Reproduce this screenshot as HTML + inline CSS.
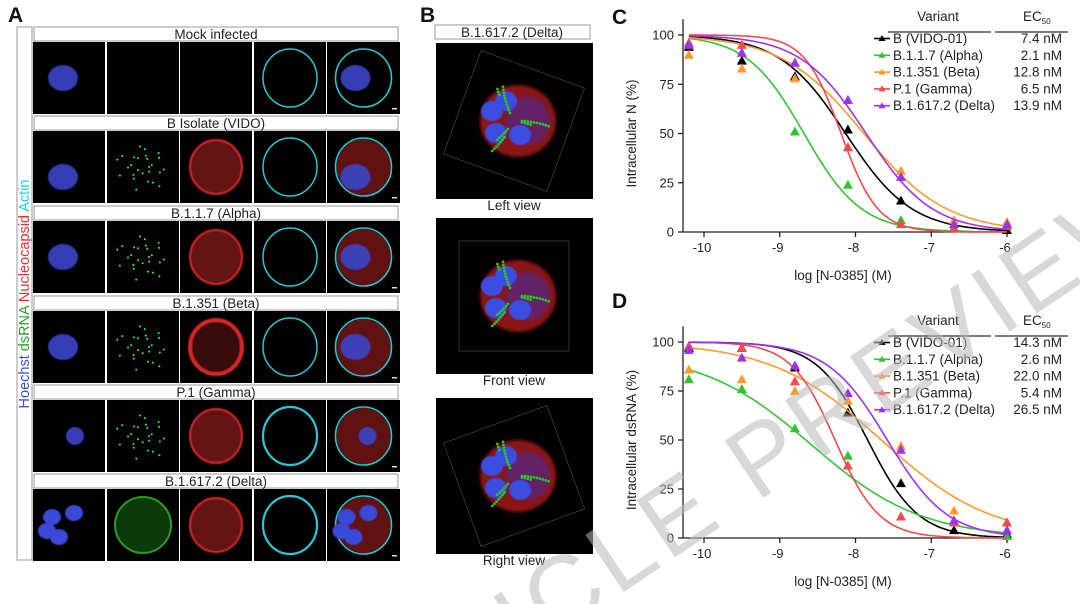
<!DOCTYPE html>
<html><head><meta charset="utf-8"><style>
html,body{margin:0;padding:0;background:#fff;}
body{width:1080px;height:604px;overflow:hidden;position:relative;font-family:"Liberation Sans",Arial,sans-serif;}
svg{position:absolute;left:0;top:0;overflow:hidden;}
</style></head><body>
<svg id="fig" width="1080" height="604" viewBox="0 0 1080 604" xmlns="http://www.w3.org/2000/svg" font-family="Liberation Sans, Arial, sans-serif">
<defs>
<filter id="bl" x="-20%" y="-20%" width="140%" height="140%"><feGaussianBlur stdDeviation="1.5"/></filter>
<filter id="bl2"><feGaussianBlur stdDeviation="0.6"/></filter>
<clipPath id="pageclip"><rect x="0" y="0" width="1080" height="604"/></clipPath>
</defs>
<g font-weight="bold" font-size="21" fill="#111">
<text x="8" y="22">A</text>
<text x="420" y="22">B</text>
<text x="612" y="24">C</text>
<text x="612" y="308">D</text>
</g>
<g id="panelA"></g>
<g id="panelB"></g>
<g id="chartC"></g>
<g id="chartD"></g>
<g clip-path="url(#pageclip)">
<text x="345" y="780" transform="rotate(-34 345 780)" font-size="100" fill="#b8b8b8" fill-opacity="0.55" letter-spacing="6">ARTICLE PREVIEW</text>
</g>
</svg>
<script>
const NS='http://www.w3.org/2000/svg';
function mk(parent,tag,attrs,text){const e=document.createElementNS(NS,tag);for(const k in attrs)e.setAttribute(k,attrs[k]);if(text!==undefined)e.textContent=text;parent.appendChild(e);return e;}

// ---------- Chart data ----------
const xDoses=[-10.2,-9.5,-8.8,-8.1,-7.4,-6.7,-6];
const xTicks=[-10,-9,-8,-7,-6];
const yTicks=[0,25,50,75,100];
const variantNames=['B (VIDO-01)','B.1.1.7 (Alpha)','B.1.351 (Beta)','P.1 (Gamma)','B.1.617.2 (Delta)'];
const variantColors=['#000000','#33c433','#ff9a2e','#f4494d','#9b33f0'];
const ec50LabelsC=['7.4','2.1','12.8','6.5','13.9'];
const ec50LabelsD=['14.3','2.6','22.0','5.4','26.5'];
const logEc50C=[-8.13,-8.68,-7.89,-8.19,-7.86];
const hillC=[1.0,1.15,0.8,1.8,1.0];
const logEc50D=[-7.84,-8.58,-7.66,-8.27,-7.58];
const hillD=[1.3,0.6,0.6,1.5,1.1];
const topD=[100,95,100,100,100];
const topC=[100,100,100,100,100];
const pointsC_B=[94,87,79,52,16,2,1];
const pointsC_Alpha=[96,91,51,24,6,4,5];
const pointsC_Beta=[90,83,78,67,31,6,5];
const pointsC_Gamma=[96,95,86,43,4,2,3];
const pointsC_Delta=[95,91,86,67,28,4,4];
const pointsD_B=[97,97,87,64,28,4,2];
const pointsD_Alpha=[81,76,56,42,11,9,1];
const pointsD_Beta=[86,81,75,70,47,14,8];
const pointsD_Gamma=[98,97,80,37,11,8,8];
const pointsD_Delta=[96,92,88,74,45,9,4];

function drawChart(g,cfg){
  const xS=v=>704+(v+10)*75.75;
  const yS=v=>cfg.y0-v*cfg.ky;
  const yTop=yS(108);
  const ax=mk(g,'g',{stroke:'#222','stroke-width':'1.3',fill:'none'});
  mk(ax,'line',{x1:683,y1:yTop,x2:683,y2:cfg.y0,});
  mk(ax,'line',{x1:683,y1:cfg.y0,x2:1010,y2:cfg.y0,});
  yTicks.forEach(t=>{
    const l=mk(ax,'line',{x1:678,y1:yS(t),x2:683,y2:yS(t)});
    
    
    const tx=mk(g,'text',{x:674,y:yS(t)+4.5,'text-anchor':'end','font-size':'13',fill:'#222'},String(t));
    
    
  });
  xTicks.forEach(t=>{
    const l=mk(ax,'line',{x1:xS(t),y1:cfg.y0,x2:xS(t),y2:cfg.y0+5});
    
    
    const tx=mk(g,'text',{x:xS(t)-2,y:cfg.y0+20,'text-anchor':'middle','font-size':'13',fill:'#222'},String(t));
    
    
  });
  mk(g,'text',{x:843,y:cfg.y0+48,'text-anchor':'middle','font-size':'13.5',fill:'#222',},'log [N-0385] (M)');
  const yc=(cfg.y0+yS(100))/2;
  mk(g,'text',{x:636,y:yc,'text-anchor':'middle','font-size':'13.5',fill:'#222',transform:`rotate(-90 636 ${yc})`,},cfg.ytitle);
  cfg.series.forEach((s,i)=>{
    const sg=mk(g,'g',{});
    
    
    let d='';
    for(let k=0;k<=120;k++){
      const x=-10.2+k*(4.2/120);
      const v=cfg.top[i]/(1+Math.pow(10,(x-cfg.ec[i])*cfg.hill[i]));
      d+=(k?'L':'M')+xS(x).toFixed(1)+' '+yS(v).toFixed(1);
    }
    const p=mk(sg,'path',{d:d,fill:'none',stroke:variantColors[i],'stroke-width':'1.6'});
    
    
    s.forEach((v,j)=>{
      const cx=xS(xDoses[j]),cy=yS(v);
      const tri=mk(sg,'polygon',{points:`${cx},${cy-5} ${cx-5},${cy+4} ${cx+5},${cy+4}`,fill:variantColors[i]});
      
      
    });
  });
  const lg=mk(g,'g',{'font-size':'13.5',fill:'#222'});
  mk(lg,'text',{x:938,y:cfg.ly-22,'text-anchor':'middle'},'Variant');
  const ecT=mk(lg,'text',{x:1023,y:cfg.ly-22});
  ecT.textContent='EC';
  mk(ecT,'tspan',{'font-size':'8',dy:'3'},'50');
  mk(lg,'line',{x1:888,y1:cfg.ly-11,x2:991,y2:cfg.ly-11,stroke:'#333','stroke-width':'1.2'});
  mk(lg,'line',{x1:995,y1:cfg.ly-11,x2:1068,y2:cfg.ly-11,stroke:'#333','stroke-width':'1.2'});
  variantNames.forEach((n,i)=>{
    const y=cfg.ly+i*16.8;
    const e=mk(lg,'g',{});
    
    
    mk(e,'line',{x1:874,y1:y-4.5,x2:890,y2:y-4.5,stroke:variantColors[i],'stroke-width':'1.6'});
    mk(e,'polygon',{points:`882,${y-8} 878.5,${y-2} 885.5,${y-2}`,fill:variantColors[i]});
    mk(e,'text',{x:893,y:y},n);
    mk(e,'text',{x:1062,y:y,'text-anchor':'end'},cfg.ecl[i]+'  nM');
  });
}
drawChart(document.getElementById('chartC'),{y0:232,ky:1.97,ly:43,ytitle:'Intracellular N (%)',
  series:[pointsC_B,pointsC_Alpha,pointsC_Beta,pointsC_Gamma,pointsC_Delta],ec:logEc50C,hill:hillC,top:topC,ecl:ec50LabelsC});
drawChart(document.getElementById('chartD'),{y0:538,ky:1.96,ly:347,ytitle:'Intracellular dsRNA (%)',
  series:[pointsD_B,pointsD_Alpha,pointsD_Beta,pointsD_Gamma,pointsD_Delta],ec:logEc50D,hill:hillD,top:topD,ecl:ec50LabelsD});

// ---------- Panel A ----------
const A=document.getElementById('panelA');
mk(A,'rect',{x:17,y:27,width:15,height:533,fill:'#fff',stroke:'#999','stroke-width':'1',});
const vt=mk(A,'text',{x:29,y:294,'text-anchor':'middle','font-size':'14.5',transform:'rotate(-90 29 294)',});
[['Hoechst ','#3b4fd8'],['dsRNA ','#2ca02c'],['Nucleocapsid ','#e8322e'],['Actin','#1fd3e0']].forEach(p=>mk(vt,'tspan',{fill:p[1]},p[0]));
const rowLabels=['Mock infected','B Isolate (VIDO)','B.1.1.7 (Alpha)','B.1.351 (Beta)','P.1 (Gamma)','B.1.617.2 (Delta)'];
const rowTops=[27,116,206,296,385,474];
const cols=[33,107,180,254,327];
rowLabels.forEach((lab,r)=>{
  const y=rowTops[r];
  const rg=mk(A,'g',{});
  
  
  mk(rg,'rect',{x:34,y:y,width:364,height:14,fill:'#fff',stroke:'#999','stroke-width':'1'});
  mk(rg,'text',{x:216,y:y+12,'text-anchor':'middle','font-size':'13.5',fill:'#222'},lab);
  const iy=y+15;
  cols.forEach((cx,c)=>{
    const w=c===4?73:72,h=72;
    mk(rg,'rect',{x:cx,y:iy,width:w,height:h,fill:'#000'});
    const mx=cx+w/2,my=iy+h/2;
    const nuc=()=>{ if(r===5){[[-17,-8],[5,-12],[-10,12],[-22,6]].forEach(o=>mk(rg,'ellipse',{cx:mx+o[0],cy:my+o[1],rx:9,ry:8,fill:'#3a48d8',filter:'url(#bl2)'}));}
      else mk(rg,'ellipse',{cx:mx-(c===4?8:6)+(r===4?12:0),cy:my+(r===1?10:0),rx:r===4?9:15,ry:r===4?9:13,fill:'#3a45c8',opacity:'0.9',filter:'url(#bl2)'}); };
    if(c===0) nuc();
    if(c===1 && r>0){ for(let k=0;k<26;k++){const a=k*2.4,rr=6+((k*7)%22);mk(rg,'circle',{cx:mx+Math.cos(a)*rr,cy:my+Math.sin(a)*rr*0.9,r:1,fill:'#3f3'});}
      if(r===5) mk(rg,'circle',{cx:mx,cy:my,r:28,fill:'#0a3a0a',stroke:'#2b9a2b','stroke-width':'2'}); }
    if(c===2 && r>0) mk(rg,'ellipse',{cx:mx,cy:my,rx:26,ry:27,fill:r===3?'#3a0808':'#6a1212',stroke:'#e02a2a','stroke-width':r===3?4:2,opacity:'0.95',filter:'url(#bl2)'});
    if(c===3) mk(rg,'ellipse',{cx:mx,cy:my,rx:27,ry:29,fill:'none',stroke:'#29c8d4','stroke-width':r===5||r===4?2.2:1.5});
    if(c===4){ if(r>0) mk(rg,'ellipse',{cx:mx,cy:my,rx:27,ry:28,fill:'#6a1414',opacity:'0.9'});
      mk(rg,'ellipse',{cx:mx,cy:my,rx:28,ry:29,fill:'none',stroke:'#29c8d4','stroke-width':'1.6'}); nuc();
      mk(rg,'rect',{x:cx+w-8,y:iy+h-6,width:5,height:1.5,fill:'#ddd'}); }
  });
});

// ---------- Panel B ----------
const B=document.getElementById('panelB');
mk(B,'rect',{x:435,y:25,width:155,height:14,fill:'#fff',stroke:'#999','stroke-width':'1',});
mk(B,'text',{x:512,y:37,'text-anchor':'middle','font-size':'13.5',fill:'#222',},'B.1.617.2 (Delta)');
const views=[['Left view',43],['Front view',218],['Right view',398]];
views.forEach((v,i)=>{
  const vg=mk(B,'g',{});
  
  
  mk(vg,'rect',{x:436,y:v[1],width:157,height:156,fill:'#000'});
  const cx=514,cy=v[1]+78;
  mk(vg,'rect',{x:cx-55,y:cy-55,width:110,height:110,fill:'none',stroke:'#444','stroke-width':'0.7',transform:`rotate(${i===1?0:(i===0?20:-20)} ${cx} ${cy})`});
  mk(vg,'ellipse',{cx:cx+4,cy:cy,rx:38,ry:36,fill:'#8a1818',filter:'url(#bl)'});
  mk(vg,'ellipse',{cx:cx+14,cy:cy,rx:22,ry:24,fill:'#4a2a9a',opacity:'0.6',filter:'url(#bl)'});
  [[-22,-10],[-8,-20],[-18,12],[6,14]].forEach(o=>mk(vg,'ellipse',{cx:cx+o[0],cy:cy+o[1],rx:11,ry:10,fill:'#3b4ee0',filter:'url(#bl2)'}));
  for(let k=0;k<40;k++){const a=k*2.1,rr=8+((k*11)%30);mk(vg,'circle',{cx:cx+Math.cos(a)*rr,cy:cy+Math.sin(a)*rr,r:1.4,fill:'#2fbf2f'});}
  mk(vg,'text',{x:514,y:v[1]+167,'text-anchor':'middle','font-size':'13.5',fill:'#222'},v[0]);
});
</script>
</body></html>
